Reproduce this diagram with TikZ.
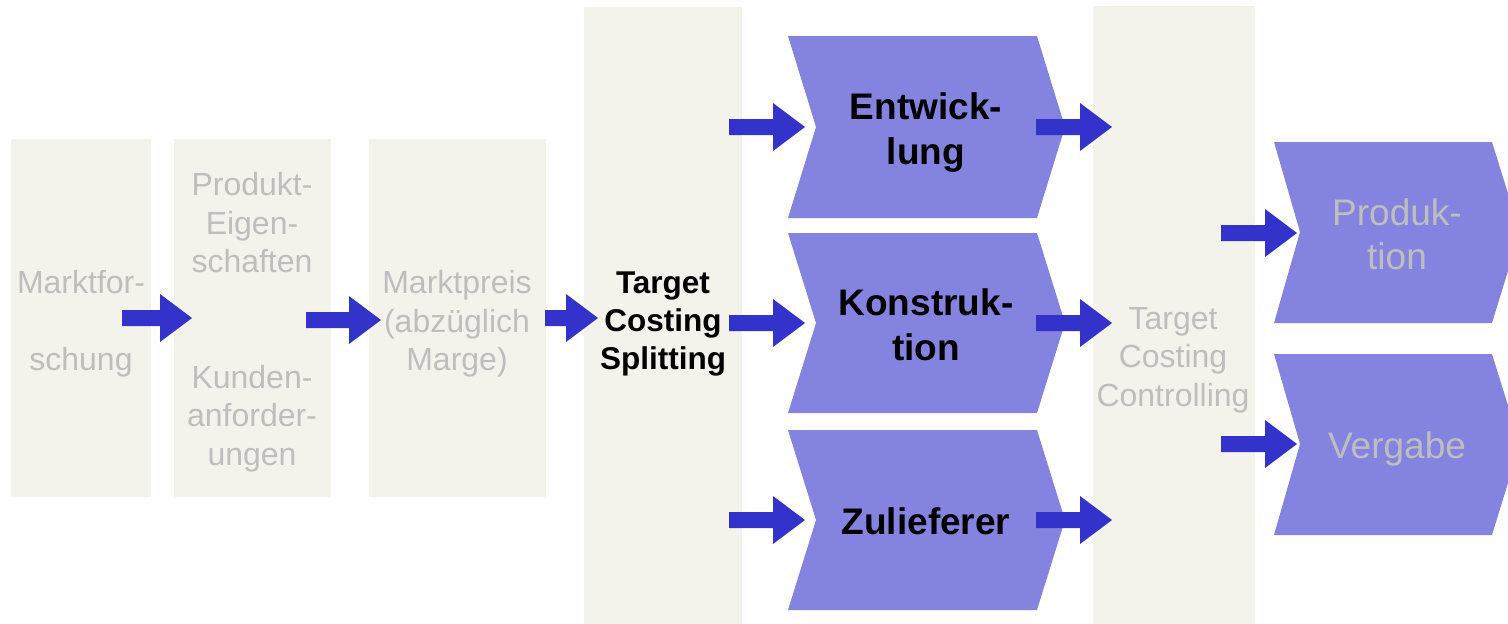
\documentclass[tikz,border=0pt]{standalone}
\usepackage{fontspec}
\setmainfont{Liberation Sans}
\usetikzlibrary{calc}
\definecolor{boxgray}{HTML}{F3F3EC}
\definecolor{chevblue}{HTML}{8484E0}
\definecolor{arrblue}{HTML}{3333CC}
\definecolor{txtgray}{HTML}{BEBEBE}
\newcommand\blkarrow[2]{\fill[blockarrow] let \p1=(#1), \p2=(#2) in
  (\x1,\y1+8pt) -- (\x2-32pt,\y1+8pt) -- (\x2-32pt,\y1+24pt) -- (\x2,\y1)
  -- (\x2-32pt,\y1-24pt) -- (\x2-32pt,\y1-8pt) -- (\x1,\y1-8pt) -- cycle;}
\begin{document}
\begin{tikzpicture}[x=1pt,y=-1pt,
  graybox/.style={fill=boxgray, draw=none, inner sep=0pt, anchor=north west},
  graytxt/.style={text=txtgray, align=center, inner sep=0pt, font=\fontsize{32}{38.5}\selectfont},
  boldtxt/.style={text=black, align=center, inner sep=0pt, font=\fontsize{31.5}{38}\selectfont\bfseries},
  chevtxt/.style={text=black, align=center, inner sep=0pt, font=\fontsize{37}{45}\selectfont\bfseries},
  chevgray/.style={text=txtgray, align=center, inner sep=0pt, font=\fontsize{37}{44}\selectfont},
  chev/.style={fill=chevblue},
  blockarrow/.style={fill=arrblue}
]
\useasboundingbox (0,0) rectangle (1508,624);
\clip (0,0) rectangle (1508,624);
\fill[white] (0,0) rectangle (1508,624);

% gray columns
\node[graybox, minimum width=140pt, minimum height=358pt] (b1) at (11,139) {};
\node[graybox, minimum width=157pt, minimum height=358pt] (b2) at (174,139) {};
\node[graybox, minimum width=177pt, minimum height=358pt] (b3) at (369,139) {};
\node[graybox, minimum width=158pt, minimum height=620pt] (b4) at (584,7) {};
\node[graybox, minimum width=162pt, minimum height=620pt] (b5) at (1093,6) {};

% chevrons
\fill[chev] (788,36) -- (1037,36) -- (1065,127) -- (1037,218) -- (788,218) -- (816,127) -- cycle;
\fill[chev] (788,233) -- (1037,233) -- (1065,323) -- (1037,413) -- (788,413) -- (816,323) -- cycle;
\fill[chev] (788,430) -- (1037,430) -- (1065,520) -- (1037,610) -- (788,610) -- (816,520) -- cycle;
\fill[chev] (1274,142) -- (1492,142) -- (1520,232) -- (1492,323) -- (1274,323) -- (1300,232) -- cycle;
\fill[chev] (1274,354) -- (1492,354) -- (1520,444) -- (1492,535) -- (1274,535) -- (1300,444) -- cycle;

% arrow end points
\coordinate (a1s) at (122,318); \coordinate (a1e) at (192,318);
\coordinate (a2s) at (306,320); \coordinate (a2e) at (381,320);
\coordinate (a3s) at (545,318); \coordinate (a3e) at (598,318);
\coordinate (e1s) at (729,127); \coordinate (e1e) at (805,127);
\coordinate (e2s) at (729,323); \coordinate (e2e) at (805,323);
\coordinate (e3s) at (729,520); \coordinate (e3e) at (805,520);
\coordinate (f1s) at (1036,127); \coordinate (f1e) at (1112,127);
\coordinate (f2s) at (1036,323); \coordinate (f2e) at (1112,323);
\coordinate (f3s) at (1036,520); \coordinate (f3e) at (1112,520);
\coordinate (g1s) at (1221,233); \coordinate (g1e) at (1297,233);
\coordinate (g2s) at (1221,444); \coordinate (g2e) at (1297,444);

\blkarrow{a1s}{a1e}
\blkarrow{a2s}{a2e}
\blkarrow{a3s}{a3e}
\blkarrow{e1s}{e1e}
\blkarrow{e2s}{e2e}
\blkarrow{e3s}{e3e}
\blkarrow{f1s}{f1e}
\blkarrow{f2s}{f2e}
\blkarrow{f3s}{f3e}
\blkarrow{g1s}{g1e}
\blkarrow{g2s}{g2e}

% texts
\node[graytxt] (t1) at (81,324) {Marktfor-\\[38.5pt]schung};
\node[graytxt] (t2) at (252,322) {Produkt-\\Eigen-\\schaften\\[77pt]Kunden-\\anforder-\\ungen};
\node[graytxt] (t3) at (457,324) {Marktpreis\\(abzüglich\\Marge)};
\node[boldtxt] (t4) at (663,324) {Target\\Costing\\Splitting};
\node[graytxt] (t5) at (1173,360) {Target\\Costing\\Controlling};
\node[chevtxt] (c1) at (926,133) {Entwick-\\lung};
\node[chevtxt] (c2) at (926,325) {Konstruk-\\tion};
\node[chevtxt] (c3) at (926,521) {Zulieferer};
\node[chevgray] (d1) at (1397,234) {Produk-\\tion};
\node[chevgray] (d2) at (1397,449) {Vergabe};
\end{tikzpicture}
\end{document}
